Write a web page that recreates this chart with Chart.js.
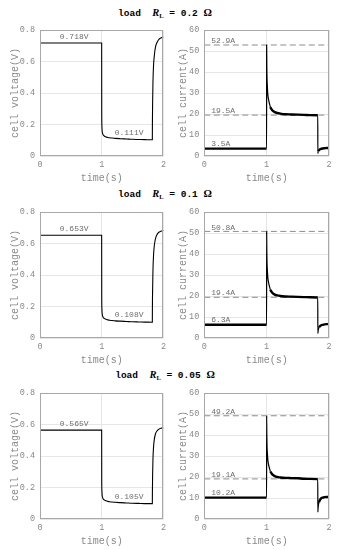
<!DOCTYPE html>
<html>
<head>
<meta charset="utf-8">
<script src="https://cdn.jsdelivr.net/npm/chart.js@4.4.1/dist/chart.umd.min.js"></script>
<style>
  body { margin: 0; background: #fff; width: 339px; height: 550px; position: relative; overflow: hidden; }
  canvas { position: absolute; }
  .ttl { position: absolute; left: 0; width: 330px; height: 13px; line-height: 13px; text-align: center;
         font: bold 9.5px "Liberation Mono", monospace; color: #000; white-space: pre; }
  .ttl i { font: bold italic 10.5px "Liberation Serif", serif; }
  .ttl sub { font: bold 6.5px "Liberation Serif", serif; vertical-align: -2px; }
  .ttl b { font: bold 10.5px "Liberation Serif", serif; }
</style>
</head>
<body>
<script>
// load resistances (ohm), one row per load
const loads = ['0.2', '0.1', '0.05'];

// time axis (s)
const timeS = [0, 0.999, 1.0, 1.003, 1.006, 1.01, 1.015, 1.02, 1.03, 1.045, 1.06, 1.08, 1.1, 1.13, 1.17, 1.22,
  1.3, 1.4, 1.5, 1.6, 1.7, 1.82, 1.821, 1.825, 1.83, 1.84, 1.85, 1.87, 1.9, 1.93, 1.96, 2.0];

// cell voltage (V)
const volt02 = [0.718, 0.718, 0.30, 0.19, 0.165, 0.15, 0.142, 0.137, 0.131, 0.126, 0.123, 0.12, 0.118, 0.116, 0.114, 0.112,
  0.110, 0.108, 0.106, 0.105, 0.104, 0.103, 0.2, 0.35, 0.47, 0.58, 0.63, 0.69, 0.725, 0.742, 0.75, 0.756];
const volt01 = [0.653, 0.653, 0.28, 0.185, 0.16, 0.147, 0.139, 0.134, 0.128, 0.123, 0.12, 0.117, 0.115, 0.113, 0.111, 0.109,
  0.107, 0.105, 0.103, 0.102, 0.101, 0.100, 0.19, 0.32, 0.43, 0.53, 0.58, 0.63, 0.66, 0.673, 0.679, 0.683];
const volt005 = [0.565, 0.565, 0.26, 0.18, 0.155, 0.143, 0.136, 0.131, 0.125, 0.12, 0.117, 0.114, 0.112, 0.11, 0.108, 0.106,
  0.104, 0.102, 0.100, 0.099, 0.098, 0.098, 0.17, 0.29, 0.38, 0.46, 0.50, 0.54, 0.562, 0.572, 0.577, 0.58];

// cell current (A)
const amp02 = [3.5, 3.5, 52.9, 42, 37, 34, 31, 29, 27, 25, 23.3, 22.2, 21.5, 20.9, 20.5, 20.2,
  19.9, 19.8, 19.7, 19.6, 19.5, 19.4, 1.2, 1.8, 2.3, 2.8, 3.1, 3.4, 3.6, 3.7, 3.8, 3.8];
const amp01 = [6.3, 6.3, 50.8, 41, 36, 33, 30.5, 28.5, 26.5, 24.6, 23, 22, 21.3, 20.7, 20.3, 20.0,
  19.8, 19.7, 19.6, 19.5, 19.4, 19.3, 2.2, 3.2, 4.1, 5.0, 5.5, 6.0, 6.3, 6.5, 6.6, 6.6];
const amp005 = [10.2, 10.2, 49.2, 40, 35, 32, 30, 28, 26, 24.2, 22.7, 21.7, 21.0, 20.4, 20.0, 19.8,
  19.6, 19.5, 19.4, 19.2, 19.1, 19.0, 3.3, 5.0, 6.5, 8.0, 8.8, 9.7, 10.2, 10.4, 10.5, 10.5];

// annotated values
const voltHigh = [0.718, 0.653, 0.565];
const voltLow = [0.111, 0.108, 0.105];
const ampPeak = [52.9, 50.8, 49.2];
const ampSteady = [19.5, 19.4, 19.1];
const ampBase = [3.5, 6.3, 10.2];

const voltRows = [volt02, volt01, volt005];
const ampRows = [amp02, amp01, amp005];

const rowTop = [25.5, 207.5, 389];
const titleY = [6.5, 187.5, 368.5];

const tickFont = { family: 'Liberation Mono', size: 8.5 };
const gray = '#8a8a8a';

// plot frame + text labels
const framePlugin = {
  id: 'frame',
  afterDatasetsDraw(chart) {
    const { ctx, chartArea: a, scales } = chart;
    ctx.save();
    ctx.strokeStyle = '#a8a8a8';
    ctx.lineWidth = 1;
    ctx.strokeRect(Math.round(a.left) + 0.5, Math.round(a.top) + 0.5,
      Math.round(a.right - a.left) - 1, Math.round(a.bottom - a.top) - 1);
    const notes = chart.options.plugins.frame.notes || [];
    ctx.font = '8px "Liberation Mono"';
    ctx.fillStyle = '#6e6e6e';
    ctx.textAlign = 'left';
    ctx.textBaseline = 'bottom';
    notes.forEach(n => {
      const x = scales.x.getPixelForValue(n.x);
      const y = scales.y.getPixelForValue(n.y) - n.lift;
      ctx.fillText(n.text, x, y);
    });
    ctx.restore();
  }
};

function makePanel(row, side, values, yMax, yStep, yTitle, notes, dashes) {
  const cv = document.createElement('canvas');
  const w = side === 0 ? 170 : 169;
  cv.width = w;
  cv.height = 166;
  cv.style.left = (side === 0 ? 0 : 170) + 'px';
  cv.style.top = (rowTop[row] - 6) + 'px';
  document.body.appendChild(cv);
  const yWidth = side === 0 ? 40 : 34.3;

  const datasets = [{
    data: timeS.map((t, i) => ({ x: t, y: values[i] })),
    borderColor: '#000',
    borderWidth: side === 0 ? 1.1 : 2.4,
    pointRadius: 0,
    cubicInterpolationMode: 'monotone',
    segment: side === 0 ? undefined : {
      borderWidth: c => Math.abs(c.p1.y - c.p0.y) > 3 * Math.abs(c.p1.x - c.p0.x) ? 1.2 : 2.4
    }
  }];
  dashes.forEach(v => datasets.push({
    data: [{ x: 0, y: v }, { x: 2, y: v }],
    borderColor: '#8c8c8c',
    borderWidth: 1,
    borderDash: [6, 3.5],
    pointRadius: 0
  }));

  new Chart(cv, {
    type: 'line',
    data: { datasets },
    options: {
      responsive: false,
      animation: false,
      devicePixelRatio: 1,
      layout: { padding: { top: 6, right: side === 0 ? 4.5 : 10, bottom: 0, left: 0 } },
      plugins: { legend: { display: false }, tooltip: { enabled: false }, frame: { notes } },
      scales: {
        x: {
          type: 'linear', min: 0, max: 2,
          afterFit: s => { s.height = 30; },
          border: { display: false },
          grid: { color: '#e6e6e6', drawTicks: false },
          ticks: { stepSize: 1, color: gray, font: tickFont, padding: 4, maxRotation: 0 },
          title: { display: true, text: 'time(s)', color: gray,
                   font: { family: 'Liberation Mono', size: 10 }, padding: { top: 0, bottom: 1.5 } }
        },
        y: {
          type: 'linear', min: 0, max: yMax,
          afterFit: s => { s.width = yWidth; },
          border: { display: false },
          grid: { color: '#e6e6e6', drawTicks: false },
          ticks: { stepSize: yStep, color: gray, font: tickFont, padding: 5 },
          title: { display: true, text: yTitle, color: gray,
                   font: { family: 'Liberation Mono', size: 10 }, padding: { top: side === 0 ? 9.5 : 7, bottom: 0 } }
        }
      }
    },
    plugins: [framePlugin]
  });
}

loads.forEach((r, i) => {
  const t = document.createElement('div');
  t.className = 'ttl';
  t.style.top = titleY[i] + 'px';
  t.innerHTML = 'load  <i>R</i><sub>L</sub> = ' + r + ' <b>\u03A9</b>';
  document.body.appendChild(t);

  makePanel(i, 0, voltRows[i], 0.8, 0.2, 'cell voltage(V)', [
    { x: 0.32, y: voltHigh[i], lift: 2, text: voltHigh[i].toFixed(3) + 'V' },
    { x: 1.21, y: voltLow[i], lift: 2, text: voltLow[i].toFixed(3) + 'V' }
  ], []);

  makePanel(i, 1, ampRows[i], 60, 10, 'cell current(A)', [
    { x: 0.11, y: ampPeak[i], lift: 0, text: ampPeak[i].toFixed(1) + 'A' },
    { x: 0.11, y: ampSteady[i], lift: 0, text: ampSteady[i].toFixed(1) + 'A' },
    { x: 0.11, y: ampBase[i], lift: 1, text: ampBase[i].toFixed(1) + 'A' }
  ], [ampPeak[i], ampSteady[i]]);
});
</script>
</body>
</html>
